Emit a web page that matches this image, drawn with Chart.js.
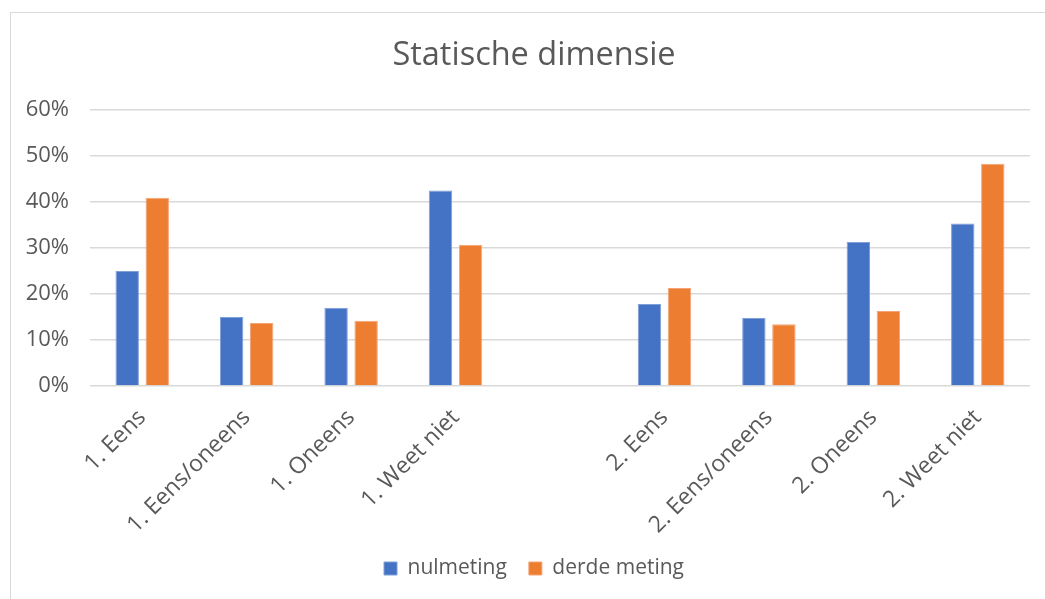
<!DOCTYPE html>
<html>
<head>
<meta charset="utf-8">
<script src="https://cdn.jsdelivr.net/npm/chart.js@4.4.1/dist/chart.umd.min.js"></script>
<style>
  html, body { margin: 0; padding: 0; background: #fff; overflow: hidden; }
  #frame {
    position: absolute; left: 10px; top: 12px;
    width: 1100px; height: 650px;
    border: 1px solid #d9d9d9; background: #fff;
  }
  #chart { display: block; }
</style>
</head>
<body>
<div id="frame">
  <canvas id="chart" width="1061" height="586"></canvas>
</div>
<script>
const categories = [
  "1. Eens", "1. Eens/oneens", "1. Oneens", "1. Weet niet", "",
  "2. Eens", "2. Eens/oneens", "2. Oneens", "2. Weet niet"
];
const nulmeting   = [25.0, 15.0, 17.0, 42.5, null, 17.8, 14.8, 31.3, 35.3];
const derdeMeting = [40.9, 13.7, 14.2, 30.7, null, 21.3, 13.4, 16.3, 48.3];
const yTicks = [0, 10, 20, 30, 40, 50, 60];

const font = "'Open Sans', sans-serif";
const grey = "#595959";

const ctx = document.getElementById("chart").getContext("2d");
new Chart(ctx, {
  type: "bar",
  data: {
    labels: categories,
    datasets: [
      {
        label: "nulmeting",
        data: nulmeting,
        backgroundColor: "#4472C4",
        borderColor: "#7f9fd8",
        borderWidth: 1
      },
      {
        label: "derde meting",
        data: derdeMeting,
        backgroundColor: "#ED7D31",
        borderColor: "#f4a577",
        borderWidth: 1
      }
    ]
  },
  options: {
    responsive: false,
    animation: false,
    layout: { padding: { left: 0, right: 15, top: 0, bottom: 10 } },
    datasets: {
      bar: { categoryPercentage: 0.575, barPercentage: 0.78 }
    },
    scales: {
      x: {
        afterFit: (scale) => { scale.height = 150; },
        grid: { display: false, drawTicks: false },
        border: { display: false },
        ticks: {
          color: grey,
          font: { family: font, size: 23 },
          minRotation: 45,
          maxRotation: 45,
          padding: 18,
          autoSkip: false
        }
      },
      y: {
        min: 0,
        max: 60,
        afterBuildTicks: (scale) => {
          scale.ticks = yTicks.map(v => ({ value: v }));
        },
        afterFit: (scale) => { scale.width = 79; },
        grid: { color: "#d9d9d9", lineWidth: 1.5, drawTicks: false },
        border: { display: false },
        ticks: {
          color: grey,
          font: { family: font, size: 22 },
          padding: 21,
          callback: (v) => v + "%"
        }
      },
      // empty right-hand margin so the plot ends where the reference does
      yRight: {
        type: "linear",
        position: "right",
        afterFit: (scale) => { scale.width = 27; },
        grid: { display: false, drawTicks: false },
        border: { display: false },
        ticks: { display: false }
      }
    },
    plugins: {
      title: {
        display: true,
        text: "Statische dimensie",
        color: grey,
        font: { family: font, size: 32.5, weight: "normal" },
        padding: { top: 23, bottom: 35 }
      },
      legend: {
        position: "bottom",
        labels: {
          color: grey,
          font: { family: font, size: 21 },
          boxWidth: 13,
          boxHeight: 13,
          padding: 22
        }
      },
      tooltip: { enabled: false }
    }
  }
});
</script>
</body>
</html>
